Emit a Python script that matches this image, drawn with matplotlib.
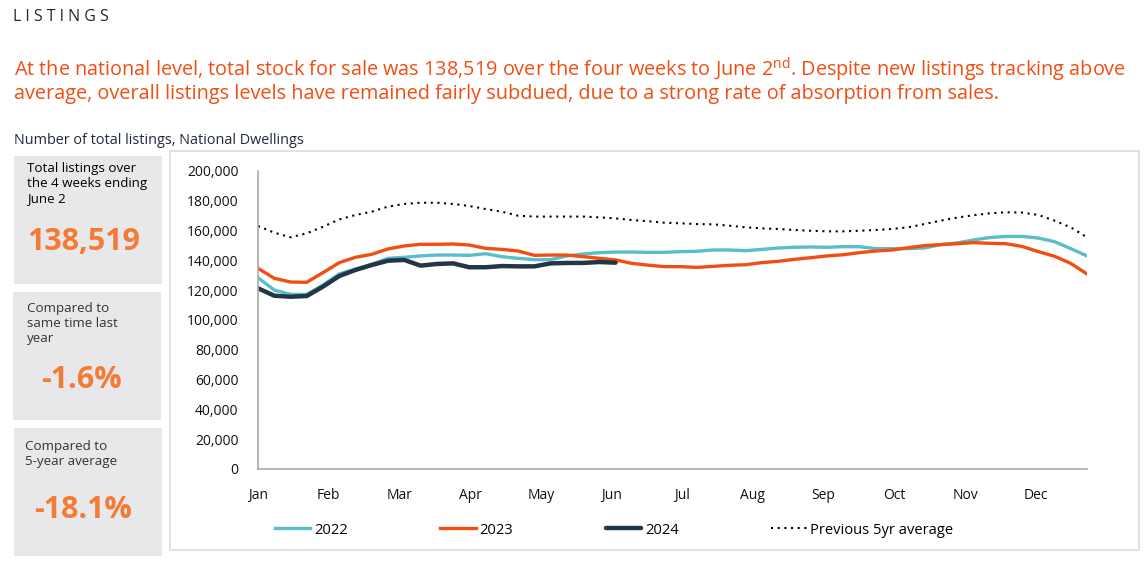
import numpy as np
import matplotlib
matplotlib.use("Agg")
import matplotlib.pyplot as plt
from matplotlib.patches import Rectangle

plt.rcParams['font.family'] = ['Open Sans', 'DejaVu Sans']
plt.rcParams['mathtext.fontset'] = 'custom'
plt.rcParams['mathtext.rm'] = 'Open Sans'

# Weekly totals (thousands), week 0 = first week of January
listings_2022 = [128.4, 120.1, 117.2, 117.2, 123.5, 130.9, 134.2, 137.4, 141.4, 142.1,
                 143.0, 143.6, 143.6, 143.4, 144.5, 142.5, 141.4, 140.5, 140.5, 143.0,
                 144.3, 145.2, 145.6, 145.6, 145.4, 145.4, 145.9, 146.1, 147.0, 147.0,
                 146.5, 147.4, 148.3, 148.8, 149.0, 148.8, 149.2, 149.2, 147.9, 147.9,
                 147.9, 148.3, 150.6, 151.7, 153.7, 155.3, 156.1, 156.1, 155.0, 152.6,
                 147.9, 143.0]
listings_2023 = [134.7, 128.0, 125.5, 125.3, 131.8, 138.5, 142.1, 144.1, 147.7, 149.7,
                 150.8, 150.8, 151.0, 150.3, 148.1, 147.4, 146.3, 143.4, 143.6, 143.6,
                 142.5, 141.4, 140.3, 138.0, 136.8, 135.8, 135.8, 135.3, 136.0, 136.7,
                 137.1, 138.5, 139.4, 140.7, 141.8, 143.0, 143.8, 145.2, 146.3, 147.0,
                 148.5, 149.9, 150.6, 151.2, 151.9, 151.5, 151.2, 149.4, 145.9, 142.8,
                 138.0, 130.9]
listings_2024 = [121.3, 116.3, 115.6, 116.1, 122.4, 129.5, 133.6, 136.9, 139.8, 140.3,
                 136.5, 137.6, 138.0, 135.4, 135.4, 136.2, 136.0, 136.0, 138.0, 138.3,
                 138.3, 138.9, 138.5]
avg_5yr = [163.1, 158.6, 155.5, 158.2, 162.6, 167.5, 170.5, 172.7, 176.1, 177.9,
           178.7, 178.7, 177.9, 176.5, 174.5, 172.7, 170.0, 169.4, 169.4, 169.4,
           169.4, 168.9, 168.2, 167.1, 166.3, 165.3, 164.9, 164.4, 164.2, 163.3,
           162.2, 161.5, 161.1, 160.4, 159.9, 159.5, 159.5, 159.9, 160.4, 161.1,
           162.2, 164.4, 166.7, 168.7, 170.3, 171.6, 172.3, 172.1, 170.5, 166.7,
           162.2, 155.5]
months = ["Jan", "Feb", "Mar", "Apr", "May", "Jun", "Jul", "Aug", "Sep", "Oct", "Nov", "Dec"]
y_ticks = [0, 20000, 40000, 60000, 80000, 100000, 120000, 140000, 160000, 180000, 200000]

headline = "138,519"
vs_last_year = "-1.6%"
vs_5yr = "-18.1%"

W, H = 1148, 564
fig = plt.figure(figsize=(W / 100, H / 100), dpi=100)
fig.patch.set_facecolor("white")


def fx(px):
    return px / W


def fy(py):
    return 1 - py / H


def box(x0, y0, x1, y1, fc, ec="none", lw=0):
    fig.add_artist(Rectangle((fx(x0), fy(y1)), fx(x1) - fx(x0), fy(y0) - fy(y1),
                             transform=fig.transFigure, facecolor=fc, edgecolor=ec,
                             linewidth=lw, zorder=0))


navy = "#1e2a38"
orange_txt = "#f04e12"
orange_big = "#f47b35"

# header texts
fig.text(fx(13), fy(17), "L I S T I N G S", fontsize=11.5, color=navy, va="center")
fig.text(fx(14), fy(80), "At the national level, total stock for sale was 138,519 over the four weeks "
         "to June 2$^{\\rm nd}$. Despite new listings tracking above\n"
         "average, overall listings levels have remained fairly subdued, due to a "
         "strong rate of absorption from sales.",
         fontsize=14.3, color=orange_txt, va="center", linespacing=1.02)
fig.text(fx(14), fy(140), "Number of total listings, National Dwellings", fontsize=10.4,
         color=navy, va="center")

# left info boxes
grey = "#e8e8ea"
box(14, 156, 162, 284, grey)
box(13, 292, 161, 420, grey)
box(14, 428, 162, 556, grey)

fig.text(fx(27), fy(162), "Total listings over\nthe 4 weeks ending\nJune 2", fontsize=9.6,
         color="black", va="top", linespacing=1.2)
fig.text(fx(27), fy(242), headline, fontsize=22, fontweight="bold", color=orange_big, va="center")
fig.text(fx(27), fy(302), "Compared to\nsame time last\nyear", fontsize=9.6,
         color="#333333", va="top", linespacing=1.2)
fig.text(fx(81), fy(380), vs_last_year, fontsize=22, fontweight="bold", color=orange_big,
         va="center", ha="center")
fig.text(fx(25), fy(440), "Compared to\n5-year average", fontsize=9.6,
         color="#333333", va="top", linespacing=1.2)
fig.text(fx(83), fy(510), vs_5yr, fontsize=22, fontweight="bold", color=orange_big,
         va="center", ha="center")

# chart panel
box(170, 151, 1139, 550, "white", ec="#dddddd", lw=1.2)

ax = fig.add_axes([fx(258), fy(469), fx(1087) - fx(258), fy(171) - fy(469)])
ax.set_facecolor("none")

weeks = np.arange(len(listings_2022))
scale = 1000
ax.plot(weeks, np.array(avg_5yr) * scale, color="black", lw=1.5, linestyle=(0, (1, 2.2)),
        label="Previous 5yr average")
ax.plot(weeks, np.array(listings_2022) * scale, color="#5bbdc8", lw=2.4, label="2022")
ax.plot(weeks, np.array(listings_2023) * scale, color="#f24e12", lw=2.4, label="2023")
ax.plot(np.arange(len(listings_2024)), np.array(listings_2024) * scale, color="#223645",
        lw=3.2, label="2024", solid_capstyle="round")

ax.set_xlim(0, 51)
ax.set_ylim(0, 200000)
ax.set_yticks(y_ticks)
ax.set_yticklabels([f"{v:,}" for v in y_ticks])
ax.set_xticks(np.arange(12) * 4.35)
ax.set_xticklabels(months)
ax.tick_params(axis="both", length=0, labelsize=10, colors="#111111")
ax.tick_params(axis="y", pad=14)
ax.tick_params(axis="x", pad=14)
for side in ["top", "right"]:
    ax.spines[side].set_visible(False)
for side in ["left", "bottom"]:
    ax.spines[side].set_color("#aaaaaa")
    ax.spines[side].set_linewidth(1.2)

handles, labels = ax.get_legend_handles_labels()
order = [1, 2, 3, 0]
fig.legend([handles[i] for i in order], [labels[i] for i in order], ncol=4,
           loc="center left", bbox_to_anchor=(fx(275), fy(530)), frameon=False,
           fontsize=10.6, handlelength=2.4, handletextpad=0.25, columnspacing=6.3,
           borderpad=0, borderaxespad=0)

fig.savefig("out.png", dpi=100, facecolor="white")
